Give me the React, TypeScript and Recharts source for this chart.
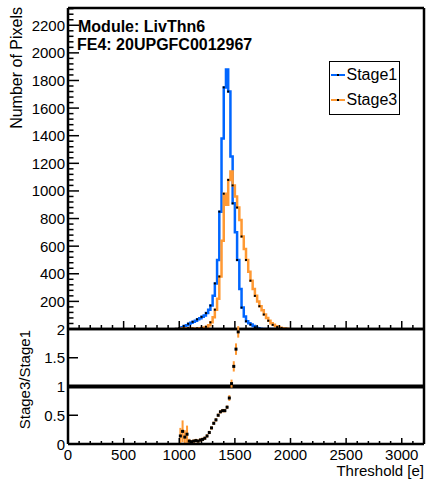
import {
    ComposedChart,
    Line,
    Scatter,
    XAxis,
    YAxis,
    ReferenceLine,
    Legend,
    ErrorBar
} from 'recharts'

// histogram bins (lower edge, e)
const thresholds = [
    960, 980, 1000, 1020, 1040, 1060, 1080, 1100, 1120, 1140, 1160, 1180, 1200, 1220, 1240, 1260, 1280,
    1300, 1320, 1340, 1360, 1380, 1400, 1420, 1440, 1460, 1480, 1500, 1520, 1540, 1560, 1580, 1600,
    1620, 1640, 1660, 1680, 1700, 1720, 1740, 1760, 1780, 1800, 1820, 1840, 1860, 1880, 1900, 1920,
    1940, 1960, 1980
]
const stage1 = [
    0, 0, 4, 12, 22, 28, 38, 45, 52, 60, 70, 78, 88, 98, 115, 140, 170,
    240, 330, 500, 850, 1380, 1750, 1880, 1720, 1250, 910, 700, 500, 290, 155, 90, 56,
    42, 32, 22, 12, 5, 2, 0, 0, 0, 0, 0, 0, 0, 0, 0, 0,
    0, 0, 0
]
const stage3 = [
    0, 0, 1, 3, 5, 4, 6, 3, 3, 3, 4, 5, 7, 10, 16, 28, 48,
    85, 140, 220, 380, 640, 980, 900, 1080, 1140, 1040, 960, 880, 790, 670, 580, 500,
    415, 350, 290, 240, 200, 165, 135, 105, 80, 60, 42, 30, 20, 14, 9, 6,
    3, 1, 0
]

// ratio Stage3/Stage1
const ratioThresholds = [
    1010, 1030, 1050, 1070, 1090, 1110, 1130, 1150, 1170, 1190, 1210, 1230, 1250, 1270,
    1290, 1310, 1330, 1350, 1370, 1390, 1410, 1430, 1450, 1470, 1490, 1510, 1530
]
const ratioValues = [
    0.14, 0.22, 0.12, 0.17, 0.05, 0.04, 0.05, 0.06, 0.05, 0.07, 0.08, 0.1, 0.14, 0.2,
    0.28, 0.36, 0.42, 0.5, 0.56, 0.58, 0.58, 0.64, 0.8, 1.05, 1.35, 1.65, 1.95
]
const ratioErrors = [
    0.14, 0.19, 0.12, 0.15, 0.04, 0.03, 0.03, 0.03, 0.03, 0.03, 0.03, 0.03, 0.03, 0.03,
    0.03, 0.03, 0.03, 0.03, 0.03, 0.03, 0.03, 0.03, 0.05, 0.07, 0.09, 0.1, 0.1
]

const countTicks = [0, 200, 400, 600, 800, 1000, 1200, 1400, 1600, 1800, 2000, 2200]
const xTicks = [0, 500, 1000, 1500, 2000, 2500, 3000]
const ratioTicks = [0, 0.5, 1, 1.5, 2]

const FONT = '"Liberation Sans", Arial, Helvetica, sans-serif'
const BLUE = '#0066ff'
const ORANGE = '#ff9933'

const histData = thresholds.map((t, i) => ({ threshold: t, stage1: stage1[i], stage3: stage3[i] }))
const ratioData = ratioThresholds.map((t, i) => ({ threshold: t, ratio: ratioValues[i], err: ratioErrors[i] }))

const withMinor = (max: number, step: number) =>
    Array.from({ length: Math.floor(max / step + 1e-9) + 1 }, (_, i) => +(i * step).toFixed(3))

const yTick = (majors: number[], hideZero: boolean, majorLen: number, minorLen: number) => (props: any) => {
    const { x, y, payload } = props
    const v = payload.value
    const major = majors.includes(v)
    return (
        <g>
            <line x1={x} x2={x + (major ? majorLen : minorLen)} y1={y} y2={y} stroke="#000" strokeWidth={1.5} />
            {major && !(hideZero && v === 0) && (
                <text x={x - 3} y={y + 5.5} textAnchor="end" fontSize={15} fontFamily={FONT} fill="#000">
                    {v}
                </text>
            )}
        </g>
    )
}

const xTick = (showLabels: boolean, majorLen: number, minorLen: number) => (props: any) => {
    const { x, y, payload } = props
    const v = payload.value
    const major = xTicks.includes(v)
    return (
        <g>
            <line x1={x} x2={x} y1={y} y2={y - (major ? majorLen : minorLen)} stroke="#000" strokeWidth={1.5} />
            {showLabels && major && (
                <text x={x} y={y + 16} textAnchor="middle" fontSize={15} fontFamily={FONT} fill="#000">
                    {v}
                </text>
            )}
        </g>
    )
}

const histDot = (color: string) => (props: any) => {
    const { cx, cy, index } = props
    if (index % 2 === 1 || cx == null) return <g key={`d${color}${index}`} />
    return <rect key={`d${color}${index}`} x={cx - 1} y={cy - 1} width={2} height={2} fill="#000" />
}

const renderLegend = (props: any) => {
    const { payload = [] } = props
    return (
        <div
            style={{
                width: 71,
                height: 54,
                boxSizing: 'border-box',
                border: '1.5px solid #000',
                background: '#fff',
                paddingLeft: 0.5,
                fontFamily: FONT
            }}
        >
            {payload.map((p: any) => (
                <div key={p.value} style={{ display: 'flex', alignItems: 'center', height: 25, fontSize: 16 }}>
                    <svg width={14} height={10}>
                        <line x1={0} x2={14} y1={5} y2={5} stroke={p.color} strokeWidth={2} />
                        <rect x={6} y={4} width={2} height={2} fill="#000" />
                    </svg>
                    <span style={{ marginLeft: 2 }}>{p.value}</span>
                </div>
            ))}
        </div>
    )
}

export default function App() {
    return (
        <div style={{ position: 'absolute', left: 0, top: 0, width: 427, height: 479, background: '#fff', fontFamily: FONT }}>
            <div style={{ position: 'absolute', left: 0, top: 0 }}>
                <ComposedChart width={427} height={340} data={histData} margin={{ top: 8, right: 3, bottom: 0, left: 0 }}>
                    <XAxis
                        dataKey="threshold"
                        type="number"
                        domain={[0, 3200]}
                        ticks={withMinor(3200, 100)}
                        interval={0}
                        height={11}
                        tickSize={0}
                        tickMargin={0}
                        tickLine={false}
                        axisLine={{ stroke: '#000', strokeWidth: 2.5 }}
                        tick={xTick(false, 8, 4)}
                    />
                    <YAxis
                        type="number"
                        domain={[0, 2325]}
                        allowDataOverflow
                        ticks={withMinor(2320, 40)}
                        interval={0}
                        width={68}
                        tickSize={0}
                        tickMargin={0}
                        tickLine={false}
                        axisLine={{ stroke: '#000', strokeWidth: 2.5 }}
                        tick={yTick(countTicks, true, 11, 5.5)}
                        label={{
                            content: () => (
                                <text
                                    x={22}
                                    y={7}
                                    transform="rotate(-90, 22, 7)"
                                    textAnchor="end"
                                    fontSize={16}
                                    fontFamily={FONT}
                                    fill="#000"
                                >
                                    Number of Pixels
                                </text>
                            )
                        }}
                    />
                    <ReferenceLine y={2325} stroke="#000" strokeWidth={2.5} />
                    <ReferenceLine x={3200} stroke="#000" strokeWidth={2.5} />
                    <Line
                        type="stepAfter"
                        dataKey="stage1"
                        name="Stage1"
                        stroke={BLUE}
                        strokeWidth={2.5}
                        dot={histDot('b')}
                        activeDot={false}
                        isAnimationActive={false}
                    />
                    <Line
                        type="stepAfter"
                        dataKey="stage3"
                        name="Stage3"
                        stroke={ORANGE}
                        strokeWidth={2.5}
                        dot={histDot('o')}
                        activeDot={false}
                        isAnimationActive={false}
                    />
                    <Legend
                        layout="vertical"
                        align="center"
                        verticalAlign="middle"
                        content={renderLegend}
                        wrapperStyle={{ left: 329, top: 61, width: 71, height: 54 }}
                    />
                    <text x={78} y={32} fontSize={16} fontWeight="bold" fontFamily={FONT} fill="#000">
                        Module: LivThn6
                    </text>
                    <text x={77} y={50} fontSize={16} fontWeight="bold" fontFamily={FONT} fill="#000">
                        FE4: 20UPGFC0012967
                    </text>
                </ComposedChart>
            </div>
            <div style={{ position: 'absolute', left: 0, top: 321 }}>
                <ComposedChart width={427} height={158} data={ratioData} margin={{ top: 8, right: 3, bottom: 0, left: 0 }}>
                    <XAxis
                        dataKey="threshold"
                        type="number"
                        domain={[0, 3200]}
                        ticks={withMinor(3200, 100)}
                        interval={0}
                        height={35}
                        tickSize={0}
                        tickMargin={0}
                        tickLine={false}
                        axisLine={{ stroke: '#000', strokeWidth: 2.5 }}
                        tick={xTick(true, 6, 3)}
                        label={{
                            content: (p: any) => (
                                <text
                                    x={p.viewBox.x + p.viewBox.width}
                                    y={p.viewBox.y + 32}
                                    textAnchor="end"
                                    fontSize={15}
                                    fontFamily={FONT}
                                    fill="#000"
                                >
                                    Threshold [e]
                                </text>
                            )
                        }}
                    />
                    <YAxis
                        dataKey="ratio"
                        type="number"
                        domain={[0, 2]}
                        allowDataOverflow
                        ticks={ratioTicks}
                        interval={0}
                        width={68}
                        tickSize={0}
                        tickMargin={0}
                        tickLine={false}
                        axisLine={{ stroke: '#000', strokeWidth: 2.5 }}
                        tick={yTick(ratioTicks, false, 10, 5)}
                        label={{
                            content: () => (
                                <text
                                    x={30}
                                    y={9}
                                    transform="rotate(-90, 30, 9)"
                                    textAnchor="end"
                                    fontSize={15}
                                    fontFamily={FONT}
                                    fill="#000"
                                >
                                    Stage3/Stage1
                                </text>
                            )
                        }}
                    />
                    <ReferenceLine y={2} stroke="#000" strokeWidth={2.5} />
                    <ReferenceLine x={3200} stroke="#000" strokeWidth={2.5} />
                    <ReferenceLine y={1} stroke="#000" strokeWidth={4} />
                    <Scatter
                        dataKey="ratio"
                        isAnimationActive={false}
                        shape={(p: any) => <rect x={p.cx - 1.5} y={p.cy - 1.5} width={3} height={3} fill="#000" />}
                    >
                        <ErrorBar dataKey="err" direction="y" width={0} stroke={ORANGE} strokeWidth={2} />
                    </Scatter>
                </ComposedChart>
            </div>
        </div>
    )
}
